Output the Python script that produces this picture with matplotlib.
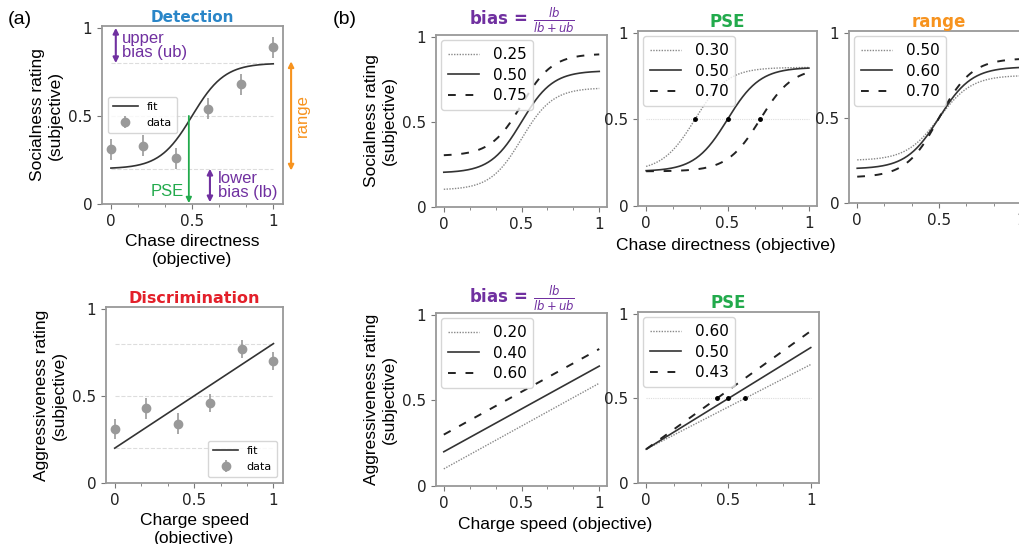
import numpy as np
import matplotlib
matplotlib.use("Agg")
import matplotlib.pyplot as plt
from matplotlib.ticker import MultipleLocator

# observed ratings (panel a)
stim_x = [0, 0.2, 0.4, 0.6, 0.8, 1.0]
detect_y = [0.31, 0.33, 0.26, 0.54, 0.68, 0.89]
detect_err = [0.06, 0.06, 0.06, 0.06, 0.06, 0.06]
discrim_y = [0.31, 0.43, 0.34, 0.46, 0.77, 0.70]
discrim_err = [0.06, 0.06, 0.06, 0.05, 0.05, 0.05]

# fit parameters (panel a)
fit_lb = 0.2
fit_ub = 0.2
fit_pse = 0.5
fit_slope = 10

# parameter sweeps (panel b)
sig_bias = [0.25, 0.50, 0.75]
sig_pse = [0.30, 0.50, 0.70]
sig_range = [0.50, 0.60, 0.70]
lin_bias = [0.20, 0.40, 0.60]
lin_pse = [0.60, 0.50, 0.43]

PURPLE = "#7030a0"
GREEN = "#22aa4c"
ORANGE = "#f7931e"
BLUE = "#2a86c8"
RED = "#e3202a"
GRAY = "#999999"
LBL_FONT = "Liberation Sans"

styles = [dict(ls=(0, (1, 1)), color="#888888", lw=1.0),
          dict(ls="-", color="#333333", lw=1.2),
          dict(ls=(0, (4, 5)), color="#222222", lw=1.4)]


def logistic(x, lb, ub, pse, k=fit_slope):
    return lb + (1 - lb - ub) / (1 + np.exp(-k * (x - pse)))


def style_ax(ax, xlo=-0.05, xhi=1.05):
    ax.set_xlim(xlo, xhi)
    ax.set_ylim(0, 1.01)
    ax.set_xticks([0, 0.5, 1])
    ax.set_xticklabels(["0", "0.5", "1"])
    ax.set_yticks([0, 0.5, 1])
    ax.set_yticklabels(["0", "0.5", "1"])
    ax.xaxis.set_minor_locator(MultipleLocator(1 / 6))
    ax.tick_params(labelsize=11, color="#777777", labelcolor="#222222", length=3.5)
    ax.tick_params(which="minor", length=2.5, color="#777777")
    for s in ax.spines.values():
        s.set_color("#999999")
        s.set_linewidth(1.3)


def legend_b(ax, handles, values):
    ax.legend(handles, [f"{v:.2f}" for v in values], loc="upper left",
              fontsize=11, handlelength=2.0, borderpad=0.45, labelspacing=0.35,
              edgecolor="#cccccc", handletextpad=0.9, borderaxespad=0.35)


fig = plt.figure(figsize=(10.19, 5.44), dpi=100)
xs = np.linspace(0, 1, 200)

# ---------- (a) Detection ----------
ax = fig.add_axes([0.1001, 0.625, 0.1776, 0.327])
for yy in (0.2, 0.5, 0.8):
    ax.plot([0, 1], [yy, yy], ls="--", color="#dddddd", lw=0.8)
ax.plot(xs, logistic(xs, fit_lb, fit_ub, fit_pse), color="#333333", lw=1.2, label="fit")
ax.errorbar(stim_x, detect_y, yerr=detect_err, fmt="o", color=GRAY, ms=6,
            elinewidth=1.2, capsize=0, label="data")
style_ax(ax, -0.055, 1.06)
ax.legend(loc="center left", bbox_to_anchor=(0.0, 0.5), fontsize=8,
          handlelength=2.2, edgecolor="#cccccc", borderpad=0.5)
ax.set_title("Detection", color=BLUE, fontweight="bold", fontsize=11, pad=3)
ax.set_ylabel("Socialness rating\n(subjective)", fontsize=12.5, family=LBL_FONT)
ax.set_xlabel("Chase directness\n(objective)", fontsize=12.5, family=LBL_FONT)
ax.annotate("", xy=(0.03, 1.0), xytext=(0.03, 0.8),
            arrowprops=dict(arrowstyle="<|-|>", color=PURPLE, lw=1.5,
                            mutation_scale=8, shrinkA=0, shrinkB=0))
ax.text(0.07, 0.9, "upper\nbias (ub)", color=PURPLE, fontsize=12,
        family=LBL_FONT, va="center", ha="left", linespacing=0.85)
ax.annotate("", xy=(0.61, 0.2), xytext=(0.61, 0.01),
            arrowprops=dict(arrowstyle="<|-|>", color=PURPLE, lw=1.5,
                            mutation_scale=8, shrinkA=0, shrinkB=0))
ax.text(0.66, 0.105, "lower\nbias (lb)", color=PURPLE, fontsize=12,
        family=LBL_FONT, va="center", ha="left", linespacing=0.85)
ax.annotate("", xy=(0.48, 0.005), xytext=(0.48, 0.5),
            arrowprops=dict(arrowstyle="-|>", color=GREEN, lw=1.3,
                            mutation_scale=8, shrinkA=0, shrinkB=0))
ax.text(0.45, 0.07, "PSE", color=GREEN, fontsize=12, family=LBL_FONT,
        va="center", ha="right")
ax.annotate("", xy=(1.11, 0.81), xytext=(1.11, 0.19), xycoords="data",
            arrowprops=dict(arrowstyle="<|-|>", color=ORANGE, lw=1.5,
                            mutation_scale=8, shrinkA=0, shrinkB=0),
            annotation_clip=False)
ax.text(1.18, 0.5, "range", color=ORANGE, fontsize=12, family=LBL_FONT,
        rotation=90, va="center", ha="center", clip_on=False)

# ---------- (a) Discrimination ----------
ax = fig.add_axes([0.104, 0.1121, 0.1737, 0.3235])
for yy in (0.2, 0.5, 0.8):
    ax.plot([0, 1], [yy, yy], ls="--", color="#dddddd", lw=0.8)
ax.plot([0, 1], [fit_lb, 1 - fit_ub], color="#333333", lw=1.2, label="fit")
ax.errorbar(stim_x, discrim_y, yerr=discrim_err, fmt="o", color=GRAY, ms=6,
            elinewidth=1.2, capsize=0, label="data")
style_ax(ax, -0.055, 1.06)
ax.legend(loc="lower right", fontsize=8, handlelength=2.2,
          edgecolor="#cccccc", borderpad=0.5)
ax.set_title("Discrimination", color=RED, fontweight="bold", fontsize=11.5, pad=3)
ax.set_ylabel("Aggressiveness rating\n(subjective)", fontsize=12.5, family=LBL_FONT)
ax.set_xlabel("Charge speed\n(objective)", fontsize=12.5, family=LBL_FONT)

# ---------- (b) sigmoid: bias ----------
ax = fig.add_axes([0.4279, 0.6195, 0.1678, 0.3162])
hs = []
for b, st in zip(sig_bias, styles):
    lb = 0.4 * b
    hs += ax.plot(xs, logistic(xs, lb, 0.4 - lb, 0.5), **st)
style_ax(ax)
legend_b(ax, hs, sig_bias)
ax.set_title(r"bias = $\frac{lb}{lb + ub}$", color=PURPLE, fontweight="bold",
             fontsize=12, pad=3)
ax.set_ylabel("Socialness rating\n(subjective)", fontsize=12.5, family=LBL_FONT)

# ---------- (b) sigmoid: PSE ----------
ax = fig.add_axes([0.6261, 0.6213, 0.1757, 0.3217])
ax.plot([0, 1], [0.5, 0.5], ls=(0, (1, 1)), color="#dddddd", lw=0.8)
hs = []
for p, st in zip(sig_pse, styles):
    hs += ax.plot(xs, logistic(xs, 0.2, 0.2, p), **st)
ax.plot(sig_pse, [0.5] * len(sig_pse), "o", color="black", ms=2.5)
style_ax(ax)
legend_b(ax, hs, sig_pse)
ax.set_title("PSE", color=GREEN, fontweight="bold", fontsize=12, pad=3)

# ---------- (b) sigmoid: range ----------
ax = fig.add_axes([0.8332, 0.6268, 0.1766, 0.3162])
hs = []
for r, st in zip(sig_range, styles):
    lb = (1 - r) / 2
    hs += ax.plot(xs, logistic(xs, lb, lb, 0.5), **st)
style_ax(ax)
legend_b(ax, hs, sig_range)
ax.set_title("range", color=ORANGE, fontweight="bold", fontsize=12, pad=3)

fig.text(0.712, 0.548, "Chase directness (objective)", fontsize=12.5,
         family=LBL_FONT, ha="center", va="center")

# ---------- (b) linear: bias ----------
ax = fig.add_axes([0.4279, 0.1066, 0.1678, 0.318])
hs = []
for b, st in zip(lin_bias, styles):
    lb = 0.5 * b
    hs += ax.plot([0, 1], [lb, 1 - (0.5 - lb)], **st)
style_ax(ax)
legend_b(ax, hs, lin_bias)
ax.set_title(r"bias = $\frac{lb}{lb + ub}$", color=PURPLE, fontweight="bold",
             fontsize=12, pad=3)
ax.set_ylabel("Aggressiveness rating\n(subjective)", fontsize=12.5, family=LBL_FONT)

# ---------- (b) linear: PSE ----------
ax = fig.add_axes([0.6261, 0.1121, 0.1776, 0.3143])
ax.plot([0, 1], [0.5, 0.5], ls=(0, (1, 1)), color="#dddddd", lw=0.8)
hs = []
for p, st in zip(lin_pse, styles):
    hs += ax.plot([0, 1], [0.2, 0.2 + 0.3 / p], **st)
ax.plot(lin_pse, [0.5] * len(lin_pse), "o", color="black", ms=2.5)
style_ax(ax)
legend_b(ax, hs, lin_pse)
ax.set_title("PSE", color=GREEN, fontweight="bold", fontsize=12, pad=3)

fig.text(0.545, 0.035, "Charge speed (objective)", fontsize=12.5,
         family=LBL_FONT, ha="center", va="center")

fig.text(0.008, 0.965, "(a)", fontsize=14, family=LBL_FONT, va="center")
fig.text(0.327, 0.965, "(b)", fontsize=14, family=LBL_FONT, va="center")

fig.savefig("out.png", dpi=100)
